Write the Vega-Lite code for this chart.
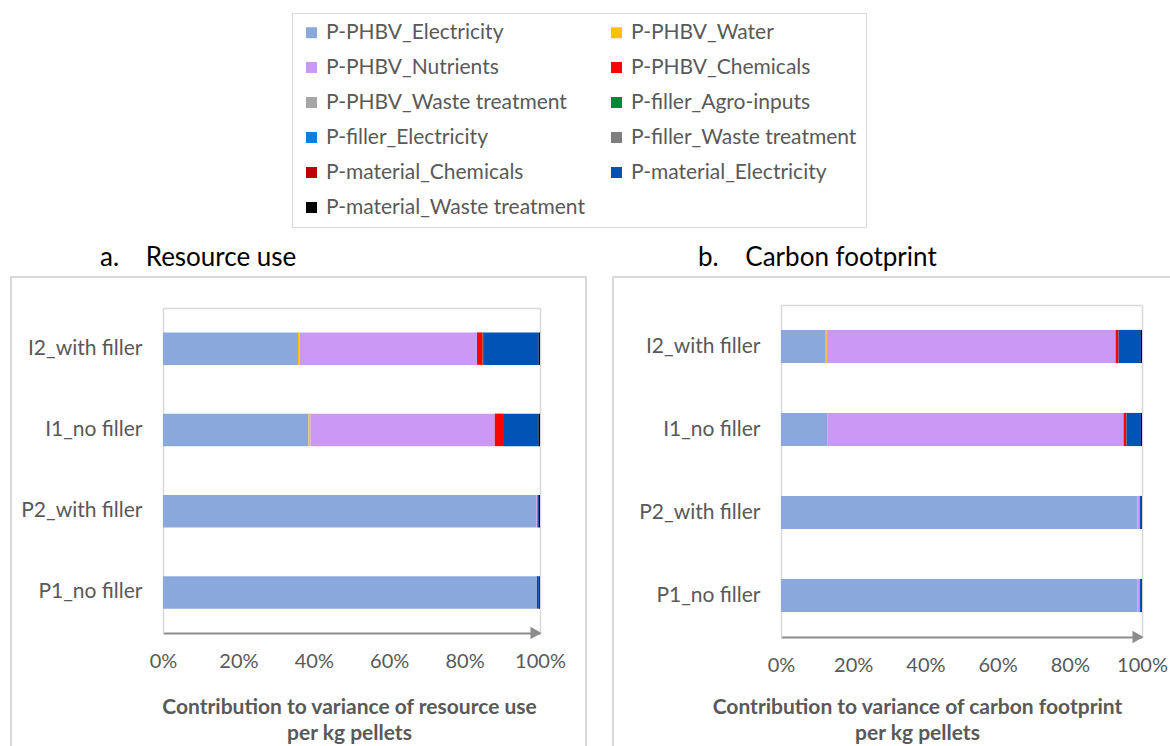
{
  "$schema": "https://vega.github.io/schema/vega-lite/v6.json",
  "padding": {"left": 10, "top": 12, "right": 0, "bottom": 0},
  "spacing": 25,
  "background": "white",
  "config": {
    "font": "Lato",
    "view": {"stroke": "#d9d9d9", "strokeWidth": 2},
    "axis": {"labelFont": "Lato", "labelColor": "#595959", "titleFont": "Lato", "titleColor": "#595959", "grid": false, "ticks": false, "labelFlush": false},
    "title": {"font": "Lato", "fontSize": 26, "fontWeight": "normal", "color": "#000000", "anchor": "start", "offset": 6},
    "legend": {"labelFont": "Lato"}
  },
  "datasets": {
    "ru": [
      {"s": "I2_with filler", "c": "P-PHBV_Electricity", "o": 0, "v": 0.358},
      {"s": "I2_with filler", "c": "P-PHBV_Water", "o": 1, "v": 0.004},
      {"s": "I2_with filler", "c": "P-PHBV_Nutrients", "o": 2, "v": 0.471},
      {"s": "I2_with filler", "c": "P-PHBV_Chemicals", "o": 3, "v": 0.015},
      {"s": "I2_with filler", "c": "P-filler_Agro-inputs", "o": 5, "v": 0.0035},
      {"s": "I2_with filler", "c": "P-material_Electricity", "o": 9, "v": 0.145},
      {"s": "I2_with filler", "c": "P-material_Waste treatment", "o": 10, "v": 0.0035},
      {"s": "I1_no filler", "c": "P-PHBV_Electricity", "o": 0, "v": 0.386},
      {"s": "I1_no filler", "c": "P-PHBV_Water", "o": 1, "v": 0.005},
      {"s": "I1_no filler", "c": "P-PHBV_Nutrients", "o": 2, "v": 0.489},
      {"s": "I1_no filler", "c": "P-PHBV_Chemicals", "o": 3, "v": 0.022},
      {"s": "I1_no filler", "c": "P-material_Electricity", "o": 9, "v": 0.094},
      {"s": "I1_no filler", "c": "P-material_Waste treatment", "o": 10, "v": 0.004},
      {"s": "P2_with filler", "c": "P-PHBV_Electricity", "o": 0, "v": 0.99},
      {"s": "P2_with filler", "c": "P-PHBV_Nutrients", "o": 2, "v": 0.003},
      {"s": "P2_with filler", "c": "P-material_Electricity", "o": 9, "v": 0.004},
      {"s": "P2_with filler", "c": "P-material_Waste treatment", "o": 10, "v": 0.003},
      {"s": "P1_no filler", "c": "P-PHBV_Electricity", "o": 0, "v": 0.992},
      {"s": "P1_no filler", "c": "P-material_Chemicals", "o": 8, "v": 0.003},
      {"s": "P1_no filler", "c": "P-material_Electricity", "o": 9, "v": 0.003},
      {"s": "P1_no filler", "c": "P-material_Waste treatment", "o": 10, "v": 0.002}
    ],
    "cf": [
      {"s": "I2_with filler", "c": "P-PHBV_Electricity", "o": 0, "v": 0.122},
      {"s": "I2_with filler", "c": "P-PHBV_Water", "o": 1, "v": 0.005},
      {"s": "I2_with filler", "c": "P-PHBV_Nutrients", "o": 2, "v": 0.8},
      {"s": "I2_with filler", "c": "P-PHBV_Chemicals", "o": 3, "v": 0.008},
      {"s": "I2_with filler", "c": "P-material_Electricity", "o": 9, "v": 0.062},
      {"s": "I2_with filler", "c": "P-material_Waste treatment", "o": 10, "v": 0.003},
      {"s": "I1_no filler", "c": "P-PHBV_Electricity", "o": 0, "v": 0.128},
      {"s": "I1_no filler", "c": "P-PHBV_Nutrients", "o": 2, "v": 0.821},
      {"s": "I1_no filler", "c": "P-PHBV_Chemicals", "o": 3, "v": 0.008},
      {"s": "I1_no filler", "c": "P-material_Electricity", "o": 9, "v": 0.04},
      {"s": "I1_no filler", "c": "P-material_Waste treatment", "o": 10, "v": 0.003},
      {"s": "P2_with filler", "c": "P-PHBV_Electricity", "o": 0, "v": 0.987},
      {"s": "P2_with filler", "c": "P-PHBV_Nutrients", "o": 2, "v": 0.007},
      {"s": "P2_with filler", "c": "P-material_Electricity", "o": 9, "v": 0.004},
      {"s": "P2_with filler", "c": "P-material_Waste treatment", "o": 10, "v": 0.002},
      {"s": "P1_no filler", "c": "P-PHBV_Electricity", "o": 0, "v": 0.988},
      {"s": "P1_no filler", "c": "P-PHBV_Nutrients", "o": 2, "v": 0.006},
      {"s": "P1_no filler", "c": "P-material_Electricity", "o": 9, "v": 0.004},
      {"s": "P1_no filler", "c": "P-material_Waste treatment", "o": 10, "v": 0.002}
    ]
  },
  "hconcat": [
    {
      "width": 575,
      "height": 480,
      "title": {"text": "a.\u00a0\u00a0\u00a0\u00a0Resource use", "dx": 89},
      "data": {"name": "ru"},
      "layer": [
        {
          "mark": {"type": "bar"},
          "encoding": {
            "y": {"field": "s", "type": "nominal", "sort": ["I2_with filler", "I1_no filler", "P2_with filler", "P1_no filler"],
              "scale": {"range": [31, 356], "paddingInner": 0.6, "paddingOuter": 0.3},
              "axis": {"orient": "left", "offset": -152, "title": null, "labelFontSize": 21, "labelPadding": 21, "domainColor": "#d9d9d9", "domainWidth": 1.5}},
            "x": {"field": "v", "type": "quantitative", "stack": "zero",
              "scale": {"domain": [0, 1], "range": [152, 529]},
              "axis": {"orient": "bottom", "offset": -124, "values": [0, 0.2, 0.4, 0.6, 0.8, 1], "format": ".0%", "labelFontSize": 20, "labelPadding": 18, "domainColor": "#8c8c8c", "domainWidth": 2,
                "title": ["Contribution to variance of resource use", "per kg pellets"], "titleFontSize": 21, "titleFontWeight": "bold", "titlePadding": 25, "titleLineHeight": 26, "titleX": 338}},
            "order": {"field": "o", "type": "quantitative"},
            "color": {"field": "c", "type": "nominal",
              "scale": {"domain": ["P-PHBV_Electricity", "P-PHBV_Water", "P-PHBV_Nutrients", "P-PHBV_Chemicals", "P-PHBV_Waste treatment", "P-filler_Agro-inputs", "P-filler_Electricity", "P-filler_Waste treatment", "P-material_Chemicals", "P-material_Electricity", "P-material_Waste treatment"],
                "range": ["#8aa8dc", "#ffc000", "#c999f4", "#ff0000", "#a5a5a5", "#00883a", "#0a7fe0", "#7f7f7f", "#c00000", "#0052b4", "#000000"]},
              "legend": {"orient": "none", "legendX": 281, "legendY": -264, "title": null, "columns": 2, "columnPadding": 21, "rowPadding": 13,
                "values": ["P-PHBV_Electricity", "P-PHBV_Nutrients", "P-PHBV_Waste treatment", "P-filler_Electricity", "P-material_Chemicals", "P-material_Waste treatment", "P-PHBV_Water", "P-PHBV_Chemicals", "P-filler_Agro-inputs", "P-filler_Waste treatment", "P-material_Electricity"],
                "symbolType": "square", "symbolSize": 121, "symbolStrokeWidth": 0, "labelFontSize": 21, "labelColor": "#595959", "labelOffset": 4, "labelLimit": 400,
                "strokeColor": "#d9d9d9", "padding": 9}}
          }
        },
        {
          "mark": {"type": "bar", "opacity": 0},
          "encoding": {
            "y": {"field": "s", "type": "nominal", "sort": ["I2_with filler", "I1_no filler", "P2_with filler", "P1_no filler"],
              "scale": {"range": [31, 356], "paddingInner": 0.6, "paddingOuter": 0.3},
              "axis": {"orient": "right", "offset": -46, "title": null, "labels": false, "domainColor": "#d9d9d9", "domainWidth": 1.5}},
            "x": {"field": "v", "type": "quantitative", "stack": "zero",
              "scale": {"domain": [0, 1], "range": [152, 529]},
              "axis": {"orient": "top", "offset": -31, "title": null, "labels": false, "domainColor": "#d9d9d9", "domainWidth": 1.5}}
          }
        },
        {
          "data": {"values": [{}]},
          "mark": {"type": "point", "shape": "triangle-right", "filled": true, "color": "#8c8c8c", "size": 160, "opacity": 1},
          "encoding": {
            "x": {"datum": 1, "type": "quantitative", "axis": null},
            "y": {"datum": "P1_no filler", "type": "nominal", "bandPosition": 1.75, "axis": null},
            "xOffset": {"value": -4}
          }
        }
      ],
      "resolve": {"axis": {"x": "independent", "y": "independent"}}
    },
    {
      "width": 575,
      "height": 480,
      "title": {"text": "b.\u00a0\u00a0\u00a0\u00a0Carbon footprint", "dx": 85},
      "data": {"name": "cf"},
      "layer": [
        {
          "mark": {"type": "bar"},
          "encoding": {
            "y": {"field": "s", "type": "nominal", "sort": ["I2_with filler", "I1_no filler", "P2_with filler", "P1_no filler"],
              "scale": {"range": [28, 360], "paddingInner": 0.6, "paddingOuter": 0.3},
              "axis": {"orient": "left", "offset": -168, "title": null, "labelFontSize": 21, "labelPadding": 21, "domainColor": "#d9d9d9", "domainWidth": 1.5}},
            "x": {"field": "v", "type": "quantitative", "stack": "zero",
              "scale": {"domain": [0, 1], "range": [168, 529]},
              "axis": {"orient": "bottom", "offset": -120, "values": [0, 0.2, 0.4, 0.6, 0.8, 1], "format": ".0%", "labelFontSize": 20, "labelPadding": 18, "domainColor": "#8c8c8c", "domainWidth": 2,
                "title": ["Contribution to variance of carbon footprint", "per kg pellets"], "titleFontSize": 21, "titleFontWeight": "bold", "titlePadding": 21, "titleLineHeight": 26, "titleX": 304}},
            "order": {"field": "o", "type": "quantitative"},
            "color": {"field": "c", "type": "nominal",
              "scale": {"domain": ["P-PHBV_Electricity", "P-PHBV_Water", "P-PHBV_Nutrients", "P-PHBV_Chemicals", "P-PHBV_Waste treatment", "P-filler_Agro-inputs", "P-filler_Electricity", "P-filler_Waste treatment", "P-material_Chemicals", "P-material_Electricity", "P-material_Waste treatment"],
                "range": ["#8aa8dc", "#ffc000", "#c999f4", "#ff0000", "#a5a5a5", "#00883a", "#0a7fe0", "#7f7f7f", "#c00000", "#0052b4", "#000000"]},
              "legend": {"orient": "none", "legendX": 281, "legendY": -264, "title": null, "columns": 2, "columnPadding": 21, "rowPadding": 13,
                "values": ["P-PHBV_Electricity", "P-PHBV_Nutrients", "P-PHBV_Waste treatment", "P-filler_Electricity", "P-material_Chemicals", "P-material_Waste treatment", "P-PHBV_Water", "P-PHBV_Chemicals", "P-filler_Agro-inputs", "P-filler_Waste treatment", "P-material_Electricity"],
                "symbolType": "square", "symbolSize": 121, "symbolStrokeWidth": 0, "labelFontSize": 21, "labelColor": "#595959", "labelOffset": 4, "labelLimit": 400,
                "strokeColor": "#d9d9d9", "padding": 9}}
          }
        },
        {
          "mark": {"type": "bar", "opacity": 0},
          "encoding": {
            "y": {"field": "s", "type": "nominal", "sort": ["I2_with filler", "I1_no filler", "P2_with filler", "P1_no filler"],
              "scale": {"range": [28, 360], "paddingInner": 0.6, "paddingOuter": 0.3},
              "axis": {"orient": "right", "offset": -46, "title": null, "labels": false, "domainColor": "#d9d9d9", "domainWidth": 1.5}},
            "x": {"field": "v", "type": "quantitative", "stack": "zero",
              "scale": {"domain": [0, 1], "range": [168, 529]},
              "axis": {"orient": "top", "offset": -28, "title": null, "labels": false, "domainColor": "#d9d9d9", "domainWidth": 1.5}}
          }
        },
        {
          "data": {"values": [{}]},
          "mark": {"type": "point", "shape": "triangle-right", "filled": true, "color": "#8c8c8c", "size": 160, "opacity": 1},
          "encoding": {
            "x": {"datum": 1, "type": "quantitative", "axis": null},
            "y": {"datum": "P1_no filler", "type": "nominal", "bandPosition": 1.75, "axis": null},
            "xOffset": {"value": -4}
          }
        }
      ],
      "resolve": {"axis": {"x": "independent", "y": "independent"}}
    }
  ]
}
